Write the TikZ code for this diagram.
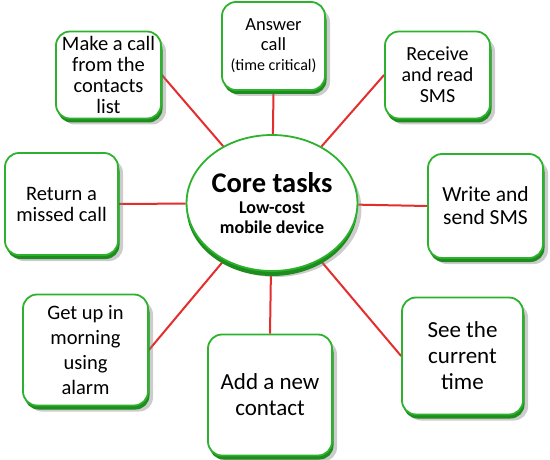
\documentclass[tikz,border=0pt]{standalone}
\usepackage{fontspec}
\setmainfont{Carlito}
\usetikzlibrary{shapes.geometric,shadows,backgrounds}
\definecolor{linkred}{RGB}{228,45,45}
\definecolor{taskgreen}{RGB}{45,178,45}
\definecolor{taskbase}{RGB}{30,140,30}

\begin{document}
\begin{tikzpicture}[
  x=1pt, y=-1pt,
  task/.style={rectangle, rounded corners=14pt, draw=taskgreen, line width=1.8pt,
    fill=white, align=center, inner sep=2pt,
    drop shadow={shadow xshift=5pt, shadow yshift=-6pt, opacity=0.4},
    general shadow={fill=taskbase, shadow xshift=1.5pt, shadow yshift=-4pt}},
  core/.style={ellipse, draw=taskgreen, line width=1.8pt, fill=white, align=center,
    minimum width=152pt, minimum height=136pt, inner sep=0pt,
    drop shadow={shadow xshift=4pt, shadow yshift=-6pt, opacity=0.4},
    general shadow={fill=taskbase, shadow yshift=-5pt}},
  link/.style={draw=linkred, line width=2pt}
]
\useasboundingbox (0,0) rectangle (550,460);

% centre
\node[core, font=\fontsize{18}{20}\selectfont\bfseries] (tasks) at (272,203)
  {\fontsize{28.5}{31}\selectfont Core tasks\\[1pt]Low-cost\\mobile device};

% tasks around it
\node[task, minimum width=105pt, minimum height=87pt, font=\fontsize{20.5}{21}\selectfont]
  (callcontact) at (108.5,75) {Make a call\\from the\\contacts\\list};
\node[task, minimum width=103pt, minimum height=88pt, font=\fontsize{18.5}{20}\selectfont]
  (answer) at (273.5,46) {Answer\\call\\{\fontsize{16}{16}\selectfont(time critical)}};
\node[task, minimum width=105pt, minimum height=87pt, font=\fontsize{20}{21}\selectfont]
  (readsms) at (437.5,75) {Receive\\and read\\SMS};
\node[task, minimum width=115pt, minimum height=104pt, font=\fontsize{21.5}{23}\selectfont]
  (sendsms) at (485.5,206) {Write and\\send SMS};
\node[task, minimum width=121pt, minimum height=117pt, font=\fontsize{23}{26}\selectfont]
  (time) at (462.5,356) {See the\\current\\time};
\node[task, minimum width=124pt, minimum height=121pt, font=\fontsize{23}{26}\selectfont]
  (contact) at (270,395) {Add a new\\contact};
\node[task, minimum width=125pt, minimum height=111pt, font=\fontsize{20.5}{25}\selectfont]
  (alarm) at (85.5,350) {Get up in\\morning\\using\\alarm};
\node[task, minimum width=113pt, minimum height=102pt, font=\fontsize{20.5}{21}\selectfont]
  (missed) at (61.5,204) {Return a\\missed call};

% spokes
\begin{scope}[on background layer]
  \draw[link] (tasks) -- (callcontact.east);
  \draw[link] (tasks) -- (answer.south);
  \draw[link] (tasks) -- (readsms.west);
  \draw[link] (tasks) -- (sendsms.west);
  \draw[link] (tasks) -- (time.west);
  \draw[link] (tasks) -- (contact.north);
  \draw[link] (tasks) -- (alarm.east);
  \draw[link] (tasks) -- (missed.east);
\end{scope}
\end{tikzpicture}
\end{document}
